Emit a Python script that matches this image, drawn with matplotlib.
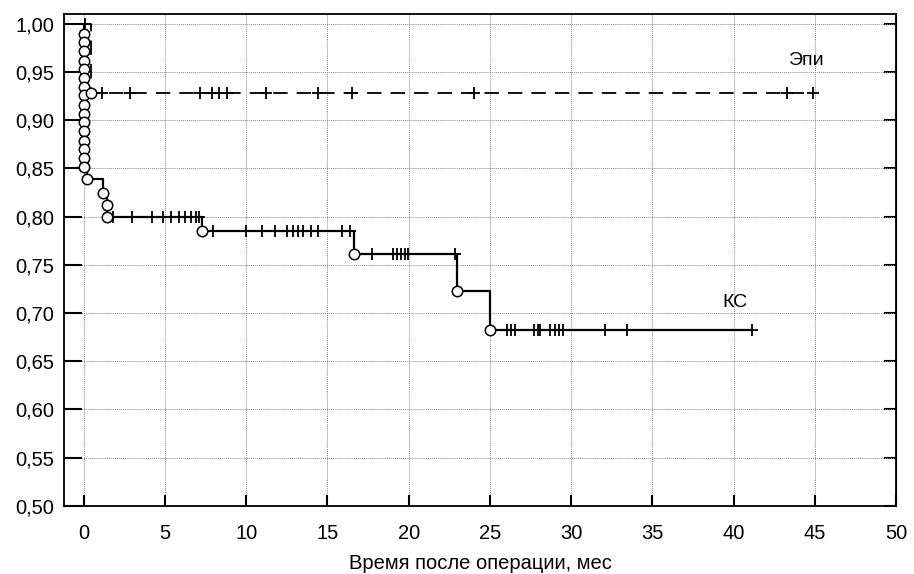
import numpy as np
import matplotlib
matplotlib.use("Agg")
import matplotlib.pyplot as plt

plt.rcParams['font.family'] = ['Liberation Sans', 'DejaVu Sans']

# КС group: death times and survival level after each death
kc_death_t = [0] * 16 + [0.2, 1.17, 1.45, 1.45, 7.26, 16.63, 22.95, 25.0]
kc_death_s = [0.990, 0.981, 0.972, 0.962, 0.953, 0.944, 0.935, 0.926,
              0.916, 0.907, 0.898, 0.889, 0.879, 0.870, 0.861, 0.852,
              0.839, 0.825, 0.812, 0.80, 0.785, 0.761, 0.723, 0.682]
kc_censor_t = [1.82, 2.95, 4.18, 4.9, 5.37, 5.88, 6.23, 6.58, 6.89, 7.11,
               7.98, 9.99, 10.95, 11.77, 12.53, 12.9, 13.2, 13.48, 13.97, 14.44,
               15.88, 16.39, 17.72, 19.05, 19.26, 19.51, 19.77, 19.98, 22.85,
               26.03, 26.3, 26.57, 27.74, 27.93, 28.11, 28.72, 29.0, 29.27, 29.51,
               32.08, 33.42, 41.11]
kc_end = 41.11

# Эпи group
epi_death_t = [0.45]
epi_death_s = [0.9286]
epi_censor_t = [0.1, 1.1, 2.85, 7.15, 7.9, 8.3, 8.8, 11.2, 14.4, 16.5, 24.0, 43.3, 44.9]
epi_end = 44.9

xticks = np.arange(0, 51, 5)
yticks = np.arange(0.50, 1.001, 0.05)


def step_xy(death_t, death_s, end):
    xs, ys = [0], [1.0]
    for t, s in zip(death_t, death_s):
        xs += [t, t]
        ys += [ys[-1], s]
    xs.append(end)
    ys.append(ys[-1])
    return xs, ys


def level_at(t, death_t, death_s):
    s = 1.0
    for dt, ds in zip(death_t, death_s):
        if dt <= t:
            s = ds
    return s


fig = plt.figure(figsize=(9.14, 5.74), dpi=100)
ax = fig.add_axes([0.0704, 0.119, 0.9099, 0.856])

ax.grid(True, color='#888888', linestyle=(0, (1, 1)), linewidth=0.7)
ax.set_axisbelow(True)

# КС curve
x, y = step_xy(kc_death_t, kc_death_s, kc_end)
ax.plot(x, y, color='black', linewidth=1.6, zorder=3)
ax.plot(kc_censor_t, [level_at(t, kc_death_t, kc_death_s) for t in kc_censor_t],
        linestyle='none', marker='+', markersize=8, mew=1.3, color='black', zorder=4)
ax.plot(kc_death_t, kc_death_s, linestyle='none', marker='o', markersize=7.5,
        mfc='white', mec='black', mew=1.1, zorder=5)

# Эпи curve
x, y = step_xy(epi_death_t, epi_death_s, epi_end)
ax.plot(x, y, color='black', linewidth=1.3, linestyle=(0, (8, 5)), zorder=3)
ax.plot(epi_censor_t, [level_at(t, epi_death_t, epi_death_s) for t in epi_censor_t],
        linestyle='none', marker='+', markersize=8, mew=1.3, color='black', zorder=4)
ax.plot(epi_death_t, epi_death_s, linestyle='none', marker='o', markersize=7.5,
        mfc='white', mec='black', mew=1.1, zorder=5)

ax.text(44.5, 0.962, 'Эпи', fontsize=14, ha='center', va='center')
ax.text(40.1, 0.711, 'КС', fontsize=14, ha='center', va='center')

ax.set_xlim(-1.2, 50)
ax.set_ylim(0.50, 1.01)
ax.set_xticks(xticks)
ax.set_yticks(yticks)
ax.set_yticklabels([f'{v:.2f}'.replace('.', ',') for v in yticks])
ax.tick_params(axis='y', direction='in', left=True, right=False, length=13, width=1.5,
               labelsize=14.5, pad=7)
ax.tick_params(axis='x', direction='in', length=8, width=1.5, labelsize=14.5, pad=13)
for sp in ax.spines.values():
    sp.set_linewidth(1.3)

# shorter inward ticks on the right side
ax_r = ax.secondary_yaxis('right')
ax_r.set_yticks(yticks)
ax_r.tick_params(direction='in', length=9, width=1.5, labelright=False)

ax.set_xlabel('Время после операции, мес', fontsize=14.5, labelpad=8)

fig.savefig('out.png', dpi=100)
